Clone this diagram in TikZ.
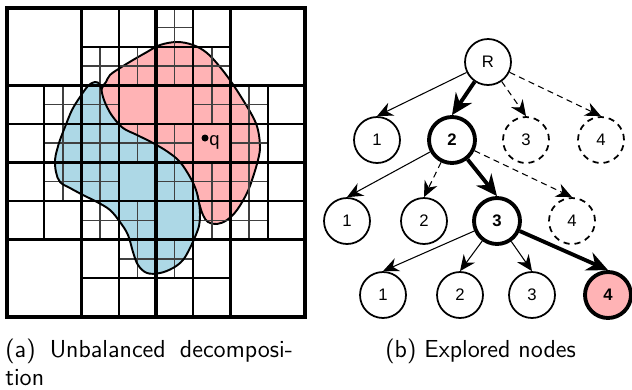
\documentclass[tikz,border=0pt]{standalone}
\usepackage{fontspec}
\usepackage{tikz}
\usetikzlibrary{arrows.meta, positioning}
\newfontfamily\arialfont{Liberation Sans}
\definecolor{blobpink}{RGB}{255,179,181}
\definecolor{blobblue}{RGB}{173,216,230}

% the two regions, in pixel coordinates
\newcommand\pinkblob{plot[smooth cycle, tension=0.6] coordinates {
  (106,82) (110,75) (120,68) (133,60) (147,52) (160,45) (177,42) (193,45)
  (207,53) (220,67) (232,83) (243,100) (253,117) (258,130) (260,147)
  (258,160) (253,177) (247,193) (237,210) (227,220) (217,224) (208,222)
  (203,215) (199,203) (196,192) (185,174) (160,153) (130,135) (108,115)
  (101,98) (102,88)}}
\newcommand\blueblob{plot[smooth cycle, tension=0.6] coordinates {
  (95,82) (100,85) (103,97) (107,107) (113,117) (123,128) (137,135)
  (153,143) (168,152) (180,162) (190,177) (196,190) (199,203) (200,215)
  (199,226) (195,237) (190,248) (183,260) (173,268) (160,273) (147,273)
  (138,265) (133,252) (128,235) (120,222) (110,210) (97,202) (83,195)
  (70,188) (60,182) (56,172) (55,160) (57,150) (60,140) (65,127) (72,110)
  (80,97) (88,86)}}

\tikzset{
  coarse/.style={line width=1.8pt},
  medium/.style={line width=1.2pt},
  fine/.style={line width=0.8pt, black!75},
  outline/.style={line width=1.1pt},
  tnode/.style={circle, draw, fill=white, line width=1pt, minimum size=0.92cm,
                inner sep=0pt, font=\arialfont\fontsize{9.5}{11}\selectfont},
  tsel/.style={tnode, line width=2.2pt,
               font=\arialfont\bfseries\fontsize{9.5}{11}\selectfont},
  tskip/.style={tnode, dash pattern=on 3.5pt off 2.8pt},
  tlink/.style={line width=0.6pt, -{Stealth[length=9pt, width=8pt]}},
  tskiplink/.style={tlink, dash pattern=on 3.5pt off 2.5pt},
  tbestlink/.style={line width=2.2pt, -{Stealth[length=12pt, width=11pt]}},
  capt/.style={font=\sffamily\fontsize{14}{15.5}\selectfont, inner sep=0pt}
}

\begin{document}
\begin{tikzpicture}[x=0.02cm, y=-0.02cm]
  \useasboundingbox (0,0) rectangle (632,389);

  % (a) decomposition
  \fill[blobpink] \pinkblob;
  \draw[outline] \pinkblob;
  \fill[blobblue] \blueblob;

  \begin{scope}[shift={(7,8)}, x=1.49cm, y=-1.545cm]
    \foreach \mx/\my in {1/0.5, 1.5/0.5, 2/0, 2/0.5, 2.5/0.5,
                         0.5/1, 0.5/1.5, 1/1, 1/1.5, 1.5/1.5, 2.5/1, 2/1.5, 3/1, 3/1.5,
                         0.5/2, 1/2, 1/2.5, 1.5/2.5, 2/2, 2.5/2, 2.5/2.5, 3/2, 3/2.5,
                         1.5/3, 2/3}
      \draw[fine] (\mx+0.25,\my) -- ++(0,0.5) (\mx,\my+0.25) -- ++(0.5,0);
    \foreach \cx/\cy in {1/0, 2/0, 0/1, 1/1, 2/1, 3/1, 0/2, 1/2, 2/2, 3/2, 1/3, 2/3}
      \draw[medium] (\cx+0.5,\cy) -- ++(0,1) (\cx,\cy+0.5) -- ++(1,0);
    \foreach \i in {1,3}
      \draw[coarse] (\i,0) -- (\i,4) (0,\i) -- (4,\i);
    \draw[coarse, line width=2.2pt] (2,0) -- (2,4) (0,2) -- (4,2);
    \draw[coarse] (0,0) rectangle (4,4);
  \end{scope}

  \draw[outline] \blueblob;
  \fill (205,138) circle (3.5);
  \node[anchor=west, inner sep=0pt, font=\arialfont\fontsize{10.5}{12}\selectfont]
       (qlabel) at (209,142) {q};

  % (b) explored nodes
  \node[tnode] (root) at (488,62) {R};
  \node[tnode] (a1) at (377,140) {1};
  \node[tsel]  (a2) at (452,140) {2};
  \node[tskip] (a3) at (526,140) {3};
  \node[tskip] (a4) at (601,140) {4};
  \node[tnode] (b1) at (347,221) {1};
  \node[tnode] (b2) at (424,221) {2};
  \node[tsel]  (b3) at (497,221) {3};
  \node[tskip] (b4) at (572,221) {4};
  \node[tnode] (c1) at (383,295) {1};
  \node[tnode] (c2) at (460,295) {2};
  \node[tnode] (c3) at (532,295) {3};
  \node[tsel, fill=blobpink] (c4) at (608,295) {4};

  \draw[tlink] (root) -- (a1.north);
  \draw[tbestlink] (root) -- (a2.north);
  \draw[tskiplink] (root) -- (a3.north);
  \draw[tskiplink] (root) -- (a4.north);
  \draw[tlink] (a2) -- (b1.north);
  \draw[tskiplink] (a2) -- (b2.north);
  \draw[tbestlink] (a2) -- (b3.north);
  \draw[tskiplink] (a2) -- (b4.north);
  \draw[tlink] (b3) -- (c1.north);
  \draw[tlink] (b3) -- (c2.north);
  \draw[tlink] (b3) -- (c3.north);
  \draw[tbestlink] (b3) -- (c4.north);

  % captions
  \node[capt, anchor=north west, text width=5.75cm, align=left] (capa) at (5,339)
       {(a)\hfill Unbalanced\hfill decomposi-\\tion};
  \node[capt, anchor=north west] (capb) at (385,339) {(b) Explored nodes};
\end{tikzpicture}
\end{document}
